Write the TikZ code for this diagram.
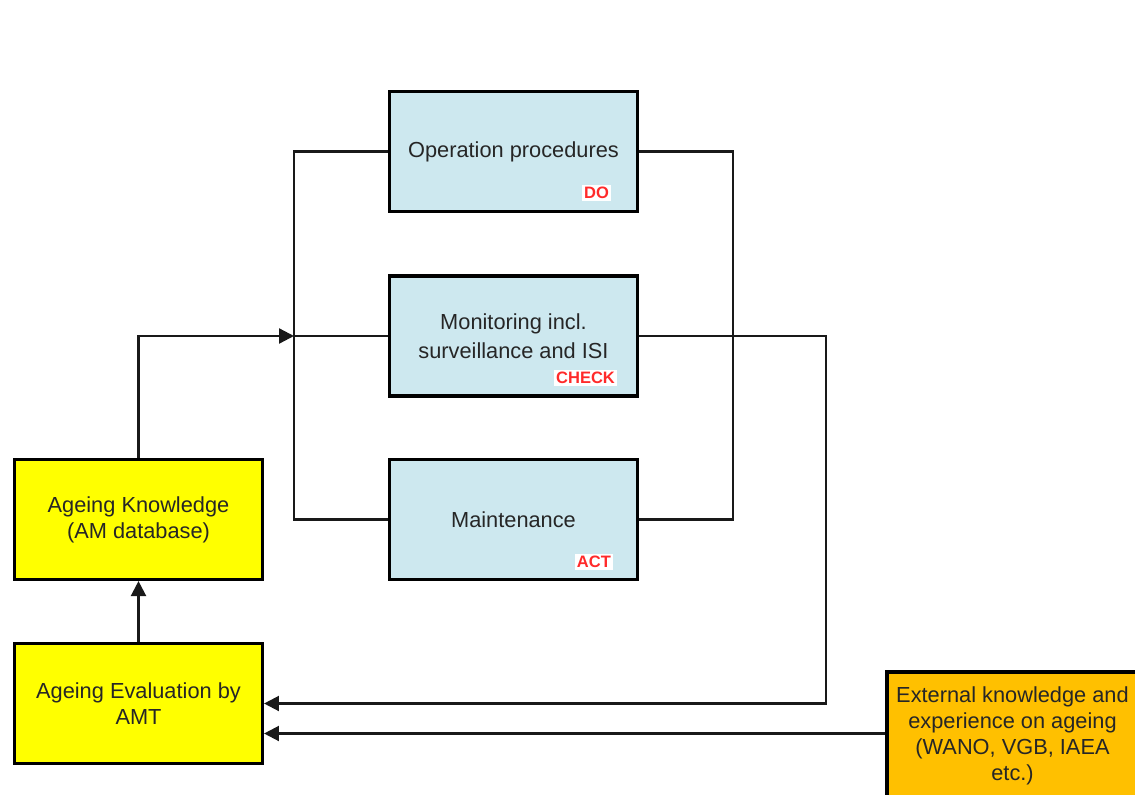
\documentclass[tikz,border=0pt]{standalone}
\usepackage{fontspec}
\setmainfont{Liberation Sans}
\usetikzlibrary{arrows.meta}
\definecolor{boxblue}{HTML}{CDE8EF}
\definecolor{boxyellow}{HTML}{FFFF00}
\definecolor{boxorange}{HTML}{FFC000}
\definecolor{tagred}{HTML}{FF2A2A}
\tikzset{
  box/.style={draw=black, line width=1.8pt, minimum width=4.96cm, minimum height=2.40cm,
    inner sep=0pt, align=center, text=black!85, font=\fontsize{12.4}{14.8}\selectfont},
  procbox/.style={box, fill=boxblue},
  knowbox/.style={box, fill=boxyellow},
  extbox/.style={box, fill=boxorange, minimum width=5.02cm, minimum height=2.56cm},
  tag/.style={text=tagred, fill=white, inner sep=1pt, font=\fontsize{9.4}{11}\selectfont\bfseries},
  link/.style={draw=black!90, line width=1.3pt},
  arr/.style={link, -{Triangle[length=8.5pt, width=8.5pt]}}
}
\begin{document}
\begin{tikzpicture}[x=0.02cm, y=-0.02cm]
  \useasboundingbox[fill=white] (0,0) rectangle (1135,794);

  % process boxes
  \node[procbox] (op)  at (513.5,151.5) {Operation procedures};
  \node[procbox] (mon) at (513.5,336) {Monitoring incl.\\[2pt]surveillance and ISI};
  \node[procbox] (mai) at (513.5,519.5) {Maintenance};

  % knowledge boxes
  \node[knowbox] (know) at (138.5,519.5) {Ageing Knowledge\\(AM database)};
  \node[knowbox] (eval) at (138.5,703.5) {Ageing Evaluation by\\AMT};

  % external input, running off the right and bottom edges
  \node[extbox] (ext) at (1012.5,736) {External knowledge and\\experience on ageing\\(WANO, VGB, IAEA\\etc.)};

  % PDCA tags
  \node[tag, anchor=east] (tdo) at (611,193) {DO};
  \node[tag, anchor=east] (tcheck) at (617,378) {CHECK};
  \node[tag, anchor=east] (tact) at (613,562) {ACT};

  % bus lines
  \coordinate (busL) at (294,336);
  \coordinate (busR) at (733,336);
  \coordinate (turn) at (826,703.5);

  \draw[link] (op.west) -| (busL) |- (mai.west);
  \draw[link] (busL) -- (mon.west);
  \draw[link] (op.east) -| (busR) |- (mai.east);

  % feedback loops
  \draw[arr] (know.north) |- (busL);
  \draw[arr] (eval.north) -- (know.south);
  \draw[arr] (mon.east) -| (turn) -- (eval.east);
  \draw[arr] ([yshift=0.05cm]ext.west) -- ([yshift=0.05cm]ext.west -| eval.east);
\end{tikzpicture}
\end{document}
